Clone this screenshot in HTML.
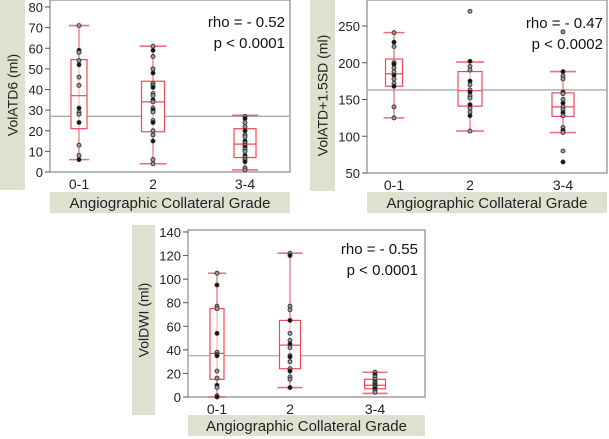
<!DOCTYPE html>
<html><head><meta charset="utf-8"><style>
html,body{margin:0;padding:0;background:#fff;width:609px;height:439px;overflow:hidden}
svg{display:block;font-family:"Liberation Sans",Arial,sans-serif}
</style></head><body>
<svg id="s" width="609" height="439" viewBox="0 0 609 439"></svg>
<script>
const categories = ["0-1","2","3-4"];
// Panel A: VolATD6
const aStats = [[6,21,37,54.5,71],[4,19.5,34,44,61],[1,7,13.5,21,27.5]];
const aPoints = [[71,59,58,54,52,46,42,31,29,28,24,13,8,6],[61,59,56,50,48,43,42,41,38,37,35,34,31,30,29,25,24,20,18,15,6,4],[27,26,24,22,20,18,17,15,14,13,12,11,10,8,7,6,5,2,1]];
const aMean = 27;
const aTicks = [0,10,20,30,40,50,60,70,80];
// Panel B: VolATD+1.5SD
const bStats = [[125,168,185,205,241],[107,141,162,188,201],[105,127,140,159,188]];
const bPoints = [[241,228,222,200,198,193,188,183,178,172,168,140,125],[270,202,195,190,175,170,163,160,155,152,143,138,133,128,107],[242,188,182,178,160,158,150,145,140,136,132,128,112,108,105,80,65]];
const bMean = 163;
const bTicks = [50,100,150,200,250];
// Panel C: VolDWI
const cStats = [[0,15,37,75,105],[8,24,44,65,122],[3,7,10,15,21]];
const cPoints = [[105,95,77,75,54,38,36,35,22,16,10,8,1,0],[122,120,77,74,65,54,48,45,42,35,34,30,24,22,17,15,8],[21,19,17,15,13,12,11,10,9,8,7,5,4]];
const cMean = 35;
const cTicks = [0,20,40,60,80,100,120,140];

const S = document.getElementById('s');
const NS = 'http://www.w3.org/2000/svg';
function mk(tag, attrs, parent, text){
  const e = document.createElementNS(NS, tag);
  for (const k in attrs) e.setAttribute(k, attrs[k]);
  if (text !== undefined) e.textContent = text;
  (parent||S).appendChild(e);
  return e;
}
function panel(cfg, stats, points, mean, ticks, id){
  const g = mk('g', {});
  
  
  const y = v => cfg.y0 - (v - cfg.vmin) * (cfg.y0 - cfg.y1) / (cfg.vmax - cfg.vmin);
  const x = i => cfg.cx[i];
  let e = mk('rect', {x:cfg.sx, y:cfg.sy, width:cfg.sw, height:cfg.sh, fill:'#dfe0d0'}, g);
   
  e = mk('rect', {x:cfg.px, y:cfg.ty, width:cfg.pw, height:21, fill:'#dfe0d0'}, g);
   
  e = mk('text', {x:cfg.px + cfg.pw/2, y:cfg.ty + 16, 'text-anchor':'middle', 'font-size':15, fill:'#222'}, g, 'Angiographic Collateral Grade');
   
  const cy = cfg.sy + cfg.sh/2, cxx = cfg.sx + cfg.sw/2 + 5;
  e = mk('text', {x:cxx, y:cy, 'text-anchor':'middle', 'font-size':14, fill:'#222', transform:`rotate(-90 ${cxx} ${cy})`}, g, cfg.title);
   
  e = mk('rect', {x:cfg.px, y:cfg.y1 - cfg.topPad, width:cfg.pw, height:cfg.y0 - cfg.y1 + cfg.topPad, fill:'#fff', stroke:'#888', 'stroke-width':1.2}, g);
   
  ticks.forEach(t => {
    mk('line', {x1:cfg.px-5, x2:cfg.px, y1:y(t), y2:y(t), stroke:'#555'}, g);
    const l = mk('text', {x:cfg.px-7, y:y(t)+5, 'text-anchor':'end', 'font-size':13, fill:'#222'}, g, t);
     
  });
  categories.forEach((c,i) => {
    const l = mk('text', {x:x(i), y:cfg.y0 + 17, 'text-anchor':'middle', 'font-size':14, fill:'#222'}, g, c);
     
  });
  e = mk('line', {x1:cfg.px, x2:cfg.px+cfg.pw, y1:y(mean), y2:y(mean), stroke:'#aaa', 'stroke-width':1.3}, g);
   
  stats.forEach((s,i) => {
    const w = cfg.bw[i], cx = x(i), red = '#f04a5a';
    const b = mk('g', {}, g);
    
    
    mk('line', {x1:cx, x2:cx, y1:y(s[0]), y2:y(s[4]), stroke:red, 'stroke-width':1}, b);
    mk('line', {x1:cx-w/2-2, x2:cx+w/2+2, y1:y(s[0]), y2:y(s[0]), stroke:red, 'stroke-width':1.6, opacity:0.8}, b);
    mk('line', {x1:cx-w/2-2, x2:cx+w/2+2, y1:y(s[4]), y2:y(s[4]), stroke:red, 'stroke-width':1.6, opacity:0.8}, b);
    mk('rect', {x:cx-w/2, y:y(s[3]), width:w, height:y(s[1])-y(s[3]), fill:'#fff', stroke:red, 'stroke-width':1.2}, b);
    mk('line', {x1:cx-w/2, x2:cx+w/2, y1:y(s[2]), y2:y(s[2]), stroke:red, 'stroke-width':1.2}, b);
    mk('line', {x1:cx, x2:cx, y1:y(s[0]), y2:y(s[4]), stroke:red, 'stroke-width':0.8, opacity:0.6}, b);
    points[i].forEach((v,j) => {
      const p = mk('circle', {cx:cx, cy:y(v), r:2, fill: j%3===1 ? '#111' : '#9a9a9a', stroke:'#333', 'stroke-width':0.9}, g);
      
      
    });
  });
  e = mk('text', {x:cfg.rx, y:cfg.ry, 'text-anchor':'end', 'font-size':15, fill:'#111'}, g, cfg.rho);
   
  e = mk('text', {x:cfg.rx, y:cfg.ry+21, 'text-anchor':'end', 'font-size':15, fill:'#111'}, g, cfg.p);
   
}
panel({sx:0,sy:0,sw:25,sh:190,px:50,pw:240,ty:192,y0:172,y1:7,topPad:7,vmin:0,vmax:80,cx:[79,153,245],bw:[16,23,22],title:'VolATD6 (ml)',rx:285,ry:27,rho:'rho = - 0.52',p:'p < 0.0001'}, aStats, aPoints, aMean, aTicks, 'volatd6');
panel({sx:310,sy:0,sw:25,sh:191,px:367,pw:240,ty:192,y0:173,y1:26,topPad:26,vmin:50,vmax:250,cx:[394,470,563],bw:[17,24,22],title:'VolATD+1.5SD (ml)',rx:603,ry:28,rho:'rho = - 0.47',p:'p < 0.0002'}, bStats, bPoints, bMean, bTicks, 'volatd15sd');
panel({sx:132,sy:225,sw:23,sh:190,px:188,pw:237,ty:415,y0:397,y1:232,topPad:2,vmin:0,vmax:140,cx:[217,290,375],bw:[14,21,21],title:'VolDWI (ml)',rx:418,ry:254,rho:'rho = - 0.55',p:'p < 0.0001'}, cStats, cPoints, cMean, cTicks, 'voldwi');
</script>
</body></html>
